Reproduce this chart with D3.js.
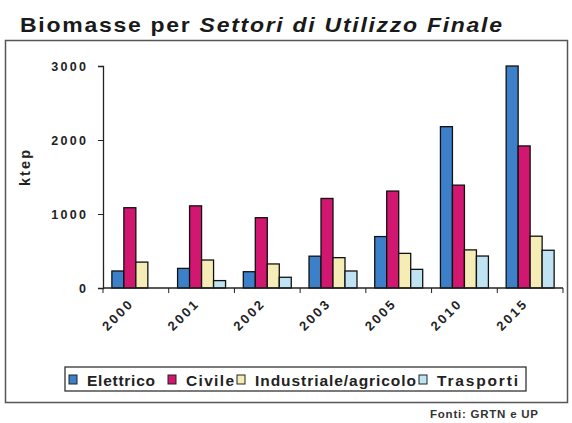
<!DOCTYPE html>
<html>
<head>
<meta charset="utf-8">
<script src="https://cdn.jsdelivr.net/npm/d3@7"></script>
<style>
  body { margin: 0; background: #fff; }
  text { font-family: "Liberation Sans", Arial, sans-serif; }
</style>
</head>
<body>
<div id="chart"></div>
<script>
// Data (ktep)
const years = ["2000", "2001", "2002", "2003", "2005", "2010", "2015"];
const sectors = ["Elettrico", "Civile", "Industriale/agricolo", "Trasporti"];
const elettrico = [230, 265, 220, 430, 695, 2180, 3000];
const civile = [1085, 1110, 950, 1210, 1310, 1390, 1920];
const industriale = [350, 378, 325, 410, 468, 515, 700];
const trasporti = [0, 100, 145, 230, 252, 432, 510];
const yTicks = [0, 1000, 2000, 3000];

const series = [elettrico, civile, industriale, trasporti];
const colors = ["#3b80c9", "#d1176f", "#f6edb6", "#bfe3f3"];

const width = 572, height = 423;
const margin = { top: 66, right: 9, bottom: 135, left: 103 };
const innerW = width - margin.left - margin.right,
  innerH = height - margin.top - margin.bottom;

const svg = d3
  .select("#chart")
  .append("svg")
  .attr("width", width)
  .attr("height", height);

// title: wide glyphs, a bit stretched like the scanned original
const titleScale = 1.18;
const title = svg.append("text")
  .attr("transform", `translate(20,32) scale(${titleScale},1)`)
  .attr("font-size", "19.5px")
  .attr("font-weight", "bold")
  .attr("fill", "#1a1a1a")
  .attr("textLength", 482 / titleScale)
  .attr("lengthAdjust", "spacing");
title.append("tspan").text("Biomasse per ");
title.append("tspan").attr("font-style", "italic").text("Settori di Utilizzo Finale");

// outer frame
svg.append("rect")
  .attr("x", 5.5)
  .attr("y", 40.5)
  .attr("width", 562)
  .attr("height", 362)
  .attr("fill", "none")
  .attr("stroke", "#555")
  .attr("stroke-width", 1.5);

const g = svg.append("g")
  .attr("transform", `translate(${margin.left},${margin.top})`);

const x0 = d3.scaleBand().domain(years).range([0, innerW]).paddingInner(0.27).paddingOuter(0.135);
const x1 = d3.scaleBand().domain(sectors).range([0, x0.bandwidth()]);
const y = d3.scaleLinear().domain([0, 3000]).range([innerH, 0]);
const band = d3.scaleBand().domain(years).range([0, innerW]);

// bars
years.forEach(function (yr, i) {
  const grp = g.append("g").attr("transform", `translate(${x0(yr)},0)`);
  sectors.forEach(function (s, j) {
    const v = series[j][i];
    if (v <= 0) return;
    grp.append("rect")
      .attr("x", x1(s))
      .attr("y", y(v))
      .attr("width", x1.bandwidth())
      .attr("height", innerH - y(v))
      .attr("fill", colors[j])
      .attr("stroke", "#111")
      .attr("stroke-width", 1.3);
  });
});

// y axis
const yAxis = g.append("g")
  .call(d3.axisLeft(y).tickValues(yTicks).tickFormat(d3.format("d")).tickSize(5).tickPadding(12));
yAxis.select(".domain").attr("stroke", "#222").attr("stroke-width", 1.3);
yAxis.selectAll("line").attr("stroke", "#222");
yAxis.selectAll("text")
  .attr("font-size", "12.5px")
  .attr("font-weight", "bold")
  .attr("fill", "#222")
  .attr("textLength", (d) => String(d).length * 8.7)
  .attr("lengthAdjust", "spacing");

// x axis with ticks between categories
const xAxis = g.append("g").attr("transform", `translate(0,${innerH})`);
xAxis.append("line")
  .attr("x1", 0).attr("x2", innerW)
  .attr("stroke", "#222").attr("stroke-width", 1.3);
xAxis.selectAll(".tick")
  .data(years.concat(["end"]))
  .enter()
  .append("line")
  .attr("x1", (d, i) => i < years.length ? band(d) : innerW)
  .attr("x2", (d, i) => i < years.length ? band(d) : innerW)
  .attr("y1", 0)
  .attr("y2", 5)
  .attr("stroke", "#222");
xAxis.selectAll(".label")
  .data(years)
  .enter()
  .append("text")
  .attr("text-anchor", "end")
  .attr("font-size", "13px")
  .attr("font-weight", "bold")
  .attr("fill", "#222")
  .attr("textLength", 36)
  .attr("lengthAdjust", "spacing")
  .attr("transform", (d) => `translate(${band(d) + band.bandwidth() / 2 - 3},${18}) rotate(-45)`)
  .text((d) => d);

// y label
svg.append("text")
  .attr("transform", "translate(30,168) rotate(-90)")
  .attr("text-anchor", "middle")
  .attr("font-size", "14.5px")
  .attr("font-weight", "bold")
  .attr("fill", "#222")
  .attr("textLength", 36)
  .attr("lengthAdjust", "spacing")
  .text("ktep");

// legend
const legend = svg.append("g").attr("transform", "translate(65,367)");
legend.append("rect")
  .attr("width", 461)
  .attr("height", 24)
  .attr("fill", "none")
  .attr("stroke", "#333")
  .attr("stroke-width", 1.3);
const legendX = [4, 103, 172, 354];
const legendW = [68, 48, 161, 81];
sectors.forEach(function (s, j) {
  legend.append("rect")
    .attr("x", legendX[j])
    .attr("y", 8)
    .attr("width", 8)
    .attr("height", 9)
    .attr("fill", colors[j])
    .attr("stroke", "#222");
  legend.append("text")
    .attr("x", legendX[j] + 18)
    .attr("y", 19)
    .attr("font-size", "15.5px")
    .attr("font-weight", "bold")
    .attr("fill", "#222")
    .attr("textLength", legendW[j])
    .attr("lengthAdjust", "spacing")
    .text(s);
});

// source
svg.append("text")
  .attr("x", 430)
  .attr("y", 418)
  .attr("font-size", "11.5px")
  .attr("font-weight", "bold")
  .attr("fill", "#333")
  .attr("textLength", 108)
  .attr("lengthAdjust", "spacing")
  .text("Fonti: GRTN e UP");
</script>
</body>
</html>
